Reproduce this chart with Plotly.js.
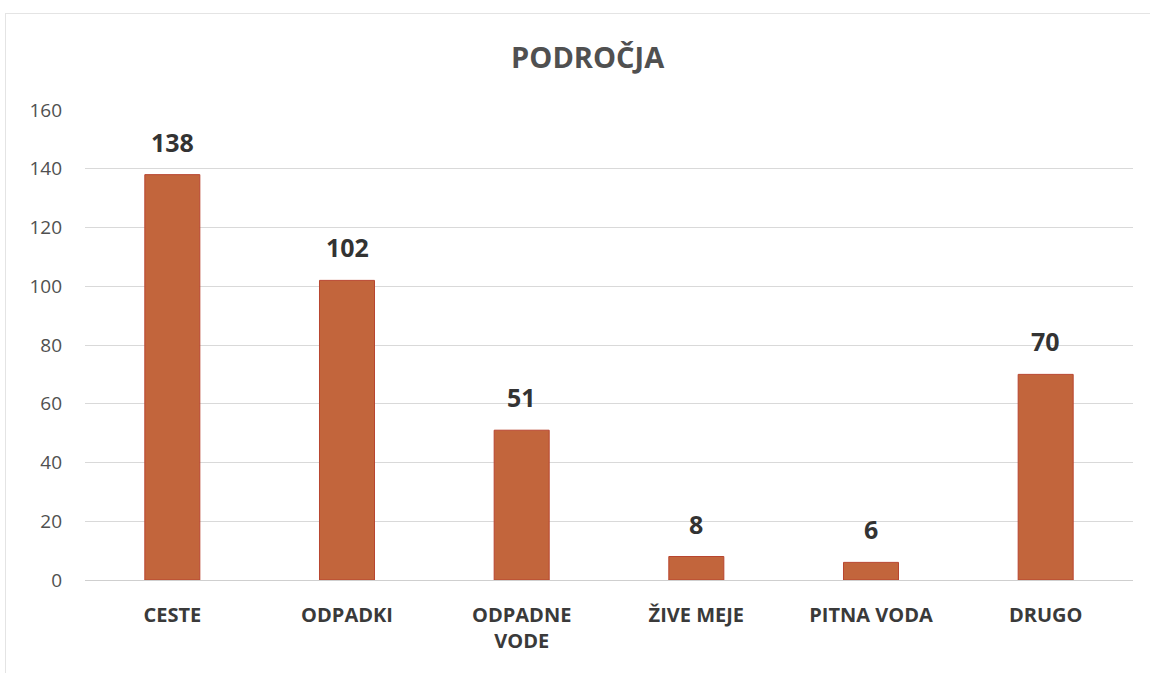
<!DOCTYPE html>
<html>
<head>
<meta charset="utf-8">
<script src="https://cdn.plot.ly/plotly-3.0.1.min.js"></script>
<style>
html,body{margin:0;padding:0;background:#fff;}
#chart{width:1150px;height:673px;position:relative;}
#frame{position:absolute;left:5px;top:13px;width:1150px;height:660px;border-left:1px solid #e4e4e4;border-top:1px solid #e4e4e4;pointer-events:none;}
</style>
</head>
<body>
<div id="chart"></div>
<div id="frame"></div>
<script>
var categories = ["CESTE", "ODPADKI", "ODPADNE<br>VODE", "ŽIVE MEJE", "PITNA VODA", "DRUGO"];
var values = [138, 102, 51, 8, 6, 70];
var yTicks = [0, 20, 40, 60, 80, 100, 120, 140, 160];
var chartTitle = "PODROČJA";

var trace = {
  type: "bar",
  x: categories,
  y: values,
  marker: {color: "#C2653C", line: {color: "#B8452F", width: 1}},
  hoverinfo: "x+y"
};

var annotations = categories.map(function(c, i){
  return {
    x: c, y: values[i], xref: "x", yref: "y",
    text: String(values[i]), showarrow: false,
    yanchor: "bottom", yshift: 14,
    font: {family: "Open Sans, sans-serif", size: 25, color: "#333333", weight: 700}
  };
});

var layout = {
  width: 1150, height: 673,
  margin: {l: 85, r: 17, t: 110, b: 93},
  paper_bgcolor: "#ffffff",
  plot_bgcolor: "#ffffff",
  title: {text: "<b>" + chartTitle + "</b>", x: 0.511, xanchor: "center", y: 0.914, yanchor: "middle",
          font: {family: "Open Sans, sans-serif", size: 29, color: "#505050"}},
  bargap: 0.685,
  showlegend: false,
  xaxis: {
    type: "category",
    tickfont: {family: "Open Sans, sans-serif", size: 20, color: "#3a3a3a", weight: 700},
    showgrid: false, zeroline: false, showline: false,
    ticks: "", ticklabelstandoff: 21
  },
  yaxis: {
    range: [0, 160],
    tickvals: yTicks,
    ticktext: yTicks.map(String),
    tickfont: {family: "Open Sans, sans-serif", size: 19, color: "#505050"},
    showgrid: true, gridcolor: "#d9d9d9", gridwidth: 1,
    zeroline: true, zerolinecolor: "#cfcfcf", zerolinewidth: 1,
    showline: false, ticks: "", ticklabelstandoff: 22
  },
  annotations: annotations,
  font: {family: "Open Sans, sans-serif"}
};

Plotly.newPlot("chart", [trace], layout, {displayModeBar: false, staticPlot: true});
</script>
</body>
</html>
